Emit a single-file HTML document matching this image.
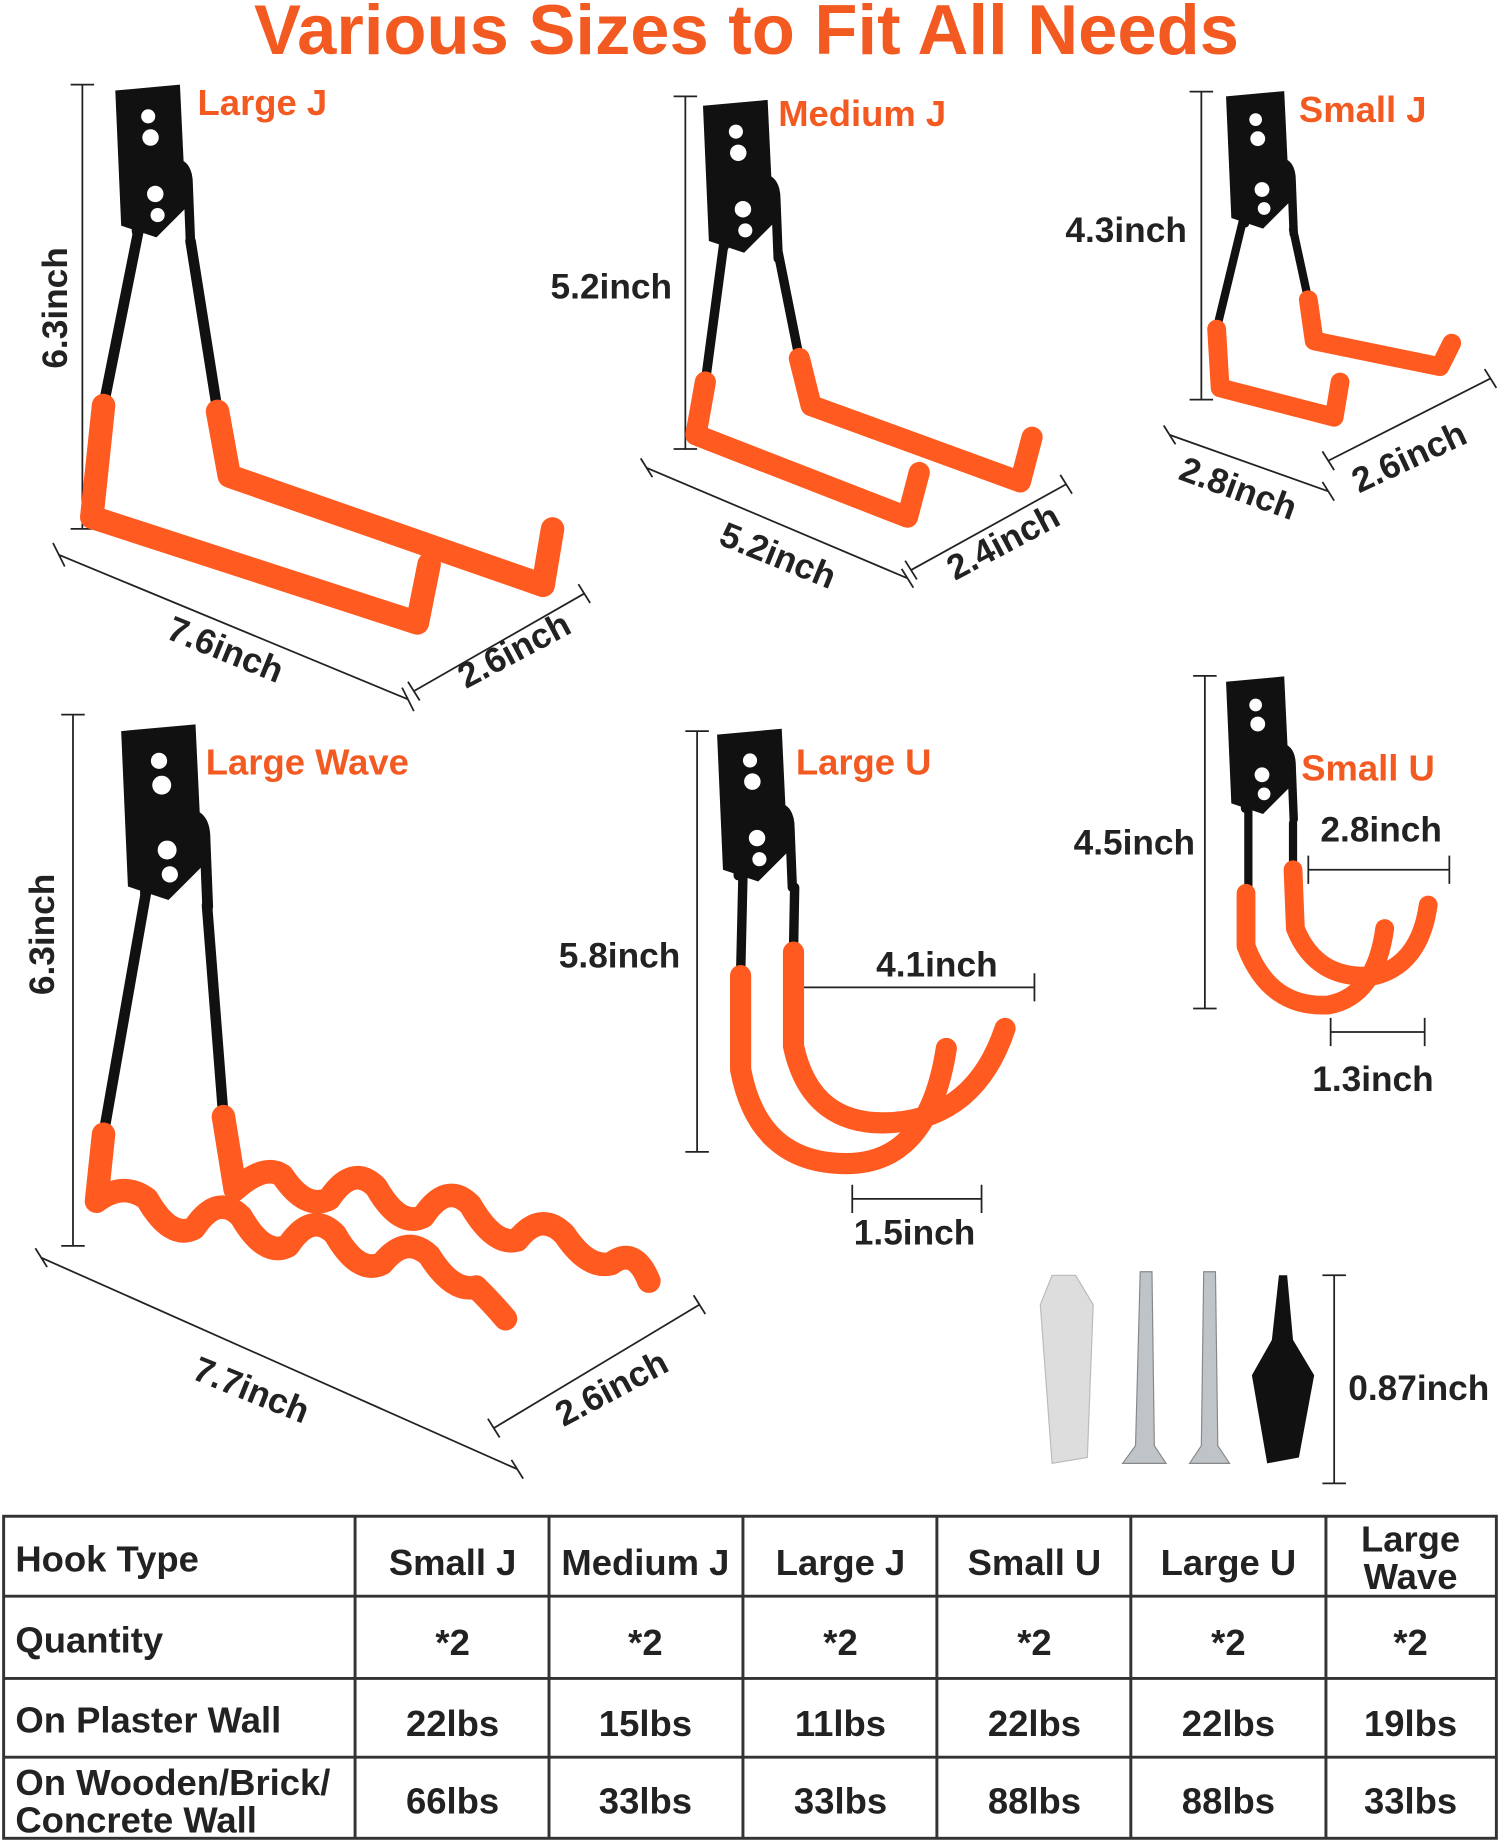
<!DOCTYPE html>
<html><head><meta charset="utf-8"><style>
html,body{margin:0;padding:0;background:#fff;}
svg{display:block;}
text{font-family:"Liberation Sans",Arial,sans-serif;font-weight:bold;}
</style></head><body>
<svg width="1500" height="1843" viewBox="0 0 1276 1568" xmlns="http://www.w3.org/2000/svg">
<defs>
<g id="plate"><path d="M0,0 L55,-5 L60,100 L35,125 L5,115 Z" fill="#111"/><circle cx="28" cy="22" r="6" fill="#fff"/><circle cx="30" cy="40" r="7" fill="#fff"/><path d="M18,120 L18,80 Q18,62 32,62 L50,62 Q62,62 62,80 L64,130" fill="none" stroke="#111" stroke-width="8"/><circle cx="34" cy="88" r="7" fill="#fff"/><circle cx="36" cy="106" r="6" fill="#fff"/></g>
</defs>
<text x="635" y="46" text-anchor="middle" font-size="60" fill="#f25a22">Various Sizes to Fit All Needs</text>

<g fill="none" stroke="#222" stroke-width="1.5">
<path d="M70,72V450 M60,72H80 M60,450H80"/>
<path d="M50,472L347,595 M45,462L55,482 M342,585L352,605"/>
<path d="M352,588L497,505 M347,580L357,596 M492,497L502,513"/>
<path d="M583,82V382 M573,82H593 M573,382H593"/>
<path d="M550,398L772,492 M545,390L555,406 M767,484L777,500"/>
<path d="M775,485L907,412 M770,477L780,493 M902,404L912,420"/>
<path d="M1022,78V340 M1012,78H1032 M1012,340H1032"/>
<path d="M995,370L1130,418 M990,362L1000,378 M1125,410L1135,426"/>
<path d="M1130,392L1268,322 M1125,384L1135,400 M1263,314L1273,330"/>
<path d="M62,608V1060 M52,608H72 M52,1060H72"/>
<path d="M35,1070L440,1250 M30,1062L40,1078 M435,1242L445,1258"/>
<path d="M420,1215L595,1110 M415,1207L425,1223 M590,1102L600,1118"/>
<path d="M593,622V980 M583,622H603 M583,980H603"/>
<path d="M683,840H880 M683,828V852 M880,828V852"/>
<path d="M725,1020H835 M725,1008V1032 M835,1008V1032"/>
<path d="M1025,575V858 M1015,575H1035 M1015,858H1035"/>
<path d="M1113,740H1233 M1113,728V752 M1233,728V752"/>
<path d="M1132,878H1212 M1132,866V890 M1212,866V890"/>
<path d="M1135,1085V1262 M1125,1085H1145 M1125,1262H1145"/>
</g>

<g stroke-linecap="round" stroke-linejoin="round" fill="none">
<use href="#plate" x="98" y="77"/>
<path d="M118,195 L88,345 M162,205 L185,350" stroke="#111" stroke-width="9"/>
<path d="M185,350 L195,405 L462,498 L470,450" stroke="#ff5a1f" stroke-width="20"/>
<path d="M88,345 L78,440 L355,530 L365,480" stroke="#ff5a1f" stroke-width="20"/>

<use href="#plate" x="598" y="90"/>
<path d="M616,205 L600,325 M662,215 L680,305" stroke="#111" stroke-width="8"/>
<path d="M680,305 L690,345 L868,410 L878,372" stroke="#ff5a1f" stroke-width="18"/>
<path d="M600,325 L592,370 L772,440 L782,402" stroke="#ff5a1f" stroke-width="18"/>

<use href="#plate" x="1043" y="82" transform="translate(1043,82) scale(0.9) translate(-1043,-82)"/>
<path d="M1058,185 L1035,280 M1100,195 L1113,255" stroke="#111" stroke-width="7"/>
<path d="M1113,255 L1118,290 L1225,312 L1235,292" stroke="#ff5a1f" stroke-width="16"/>
<path d="M1035,280 L1038,330 L1135,355 L1140,325" stroke="#ff5a1f" stroke-width="16"/>

<use href="#plate" x="103" y="622" transform="translate(103,622) scale(1.15) translate(-103,-622)"/>
<path d="M124,760 L88,965 M176,770 L190,950" stroke="#111" stroke-width="9"/>
<path d="M190,950 L200,1012 Q225,990 240,1000 Q260,1030 280,1020 Q300,990 320,1010 Q340,1045 360,1035 Q380,1005 400,1025 Q420,1060 440,1055 Q460,1030 480,1050 Q500,1080 520,1075 Q540,1060 552,1090" stroke="#ff5a1f" stroke-width="20"/>
<path d="M88,965 L82,1022 Q105,1005 125,1020 Q145,1055 165,1045 Q185,1015 205,1035 Q225,1070 245,1060 Q265,1030 285,1050 Q305,1085 325,1075 Q345,1050 365,1068 Q385,1100 405,1095 Q420,1110 430,1122" stroke="#ff5a1f" stroke-width="20"/>

<use href="#plate" x="610" y="625"/>
<path d="M632,745 L630,830 M676,755 L675,810" stroke="#111" stroke-width="8"/>
<path d="M675,810 L675,890 Q690,960 760,955 Q830,950 855,875" stroke="#ff5a1f" stroke-width="18"/>
<path d="M630,830 L630,910 Q645,990 720,990 Q790,990 805,892" stroke="#ff5a1f" stroke-width="18"/>

<use href="#plate" x="1043" y="580" transform="translate(1043,580) scale(0.9) translate(-1043,-580)"/>
<path d="M1062,690 L1062,760 M1100,700 L1100,740" stroke="#111" stroke-width="7"/>
<path d="M1100,740 L1102,790 Q1120,835 1170,830 Q1208,820 1215,770" stroke="#ff5a1f" stroke-width="16"/>
<path d="M1060,760 L1060,805 Q1080,858 1130,855 Q1170,848 1178,790" stroke="#ff5a1f" stroke-width="16"/>
</g>

<path d="M895,1085 L915,1085 L930,1110 L925,1240 L895,1245 L885,1110 Z" fill="#ddd" stroke="#bbb"/>
<path d="M970,1082 L980,1082 L982,1230 L992,1245 L955,1245 L966,1230 Z" fill="#bfc4c8" stroke="#888"/>
<path d="M1024,1082 L1034,1082 L1036,1230 L1046,1245 L1012,1245 L1022,1230 Z" fill="#bfc4c8" stroke="#888"/>
<path d="M1088,1085 L1095,1085 L1100,1140 L1118,1170 L1105,1240 L1078,1245 L1065,1170 L1082,1140 Z" fill="#111"/>

<g fill="#f25a22" font-size="31">
<text x="168" y="98">Large J</text>
<text x="662" y="107">Medium J</text>
<text x="1105" y="104">Small J</text>
<text x="175" y="659">Large Wave</text>
<text x="677" y="659">Large U</text>
<text x="1107" y="664">Small U</text>
</g>
<g fill="#222" font-size="30">
<text transform="translate(57,262) rotate(-90)" text-anchor="middle">6.3inch</text>
<text x="520" y="254" text-anchor="middle">5.2inch</text>
<text x="958" y="206" text-anchor="middle">4.3inch</text>
<text transform="translate(188,562) rotate(22)" text-anchor="middle">7.6inch</text>
<text transform="translate(442,562) rotate(-28)" text-anchor="middle">2.6inch</text>
<text transform="translate(658,482) rotate(22)" text-anchor="middle">5.2inch</text>
<text transform="translate(858,470) rotate(-28)" text-anchor="middle">2.4inch</text>
<text transform="translate(1050,425) rotate(20)" text-anchor="middle">2.8inch</text>
<text transform="translate(1203,398) rotate(-25)" text-anchor="middle">2.6inch</text>
<text transform="translate(46,795) rotate(-90)" text-anchor="middle">6.3inch</text>
<text transform="translate(210,1192) rotate(22)" text-anchor="middle">7.7inch</text>
<text transform="translate(525,1190) rotate(-28)" text-anchor="middle">2.6inch</text>
<text x="527" y="823" text-anchor="middle">5.8inch</text>
<text x="797" y="831" text-anchor="middle">4.1inch</text>
<text x="778" y="1059" text-anchor="middle">1.5inch</text>
<text x="965" y="727" text-anchor="middle">4.5inch</text>
<text x="1175" y="716" text-anchor="middle">2.8inch</text>
<text x="1168" y="928" text-anchor="middle">1.3inch</text>
<text x="1207" y="1191" text-anchor="middle">0.87inch</text>
</g>

<g stroke="#333" stroke-width="2.5" fill="none">
<rect x="3" y="1290" width="1270" height="274"/>
<path d="M3,1358H1273 M3,1428H1273 M3,1495H1273"/>
<path d="M302,1290V1564 M467,1290V1564 M632,1290V1564 M797,1290V1564 M962,1290V1564 M1128,1290V1564"/>
</g>
<g fill="#222" font-size="31">
<text x="13" y="1337">Hook Type</text>
<text x="13" y="1406">Quantity</text>
<text x="13" y="1474">On Plaster Wall</text>
<text x="13" y="1527">On Wooden/Brick/</text>
<text x="13" y="1559">Concrete Wall</text>
</g>
<g fill="#222" font-size="31" text-anchor="middle">
<text x="385" y="1340">Small J</text><text x="549" y="1340">Medium J</text><text x="715" y="1340">Large J</text><text x="880" y="1340">Small U</text><text x="1045" y="1340">Large U</text>
<text x="1200" y="1320">Large</text><text x="1200" y="1352">Wave</text>
<text x="385" y="1408">*2</text><text x="549" y="1408">*2</text><text x="715" y="1408">*2</text><text x="880" y="1408">*2</text><text x="1045" y="1408">*2</text><text x="1200" y="1408">*2</text>
<text x="385" y="1477">22lbs</text><text x="549" y="1477">15lbs</text><text x="715" y="1477">11lbs</text><text x="880" y="1477">22lbs</text><text x="1045" y="1477">22lbs</text><text x="1200" y="1477">19lbs</text>
<text x="385" y="1543">66lbs</text><text x="549" y="1543">33lbs</text><text x="715" y="1543">33lbs</text><text x="880" y="1543">88lbs</text><text x="1045" y="1543">88lbs</text><text x="1200" y="1543">33lbs</text>
</g>
</svg>
</body></html>
